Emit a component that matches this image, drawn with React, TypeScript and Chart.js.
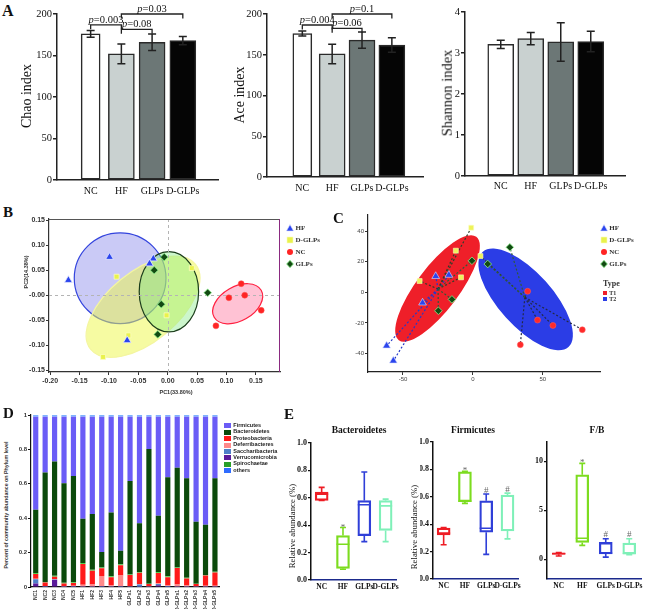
import React, { useEffect, useRef } from 'react';
import { Chart, registerables } from 'chart.js';

Chart.register(...registerables);

const SERIF = "'Liberation Serif', 'Times New Roman', serif";
const SANS = "'Liberation Sans', Arial, sans-serif";

// ================= Panel A : alpha diversity =================
const groups = ['NC', 'HF', 'GLPs', 'D-GLPs'];
const chaoMean = [176, 152, 166, 168];
const chaoSd = [4, 12, 10, 5];
const aceMean = [176, 151, 168, 162];
const aceSd = [3, 12, 10, 9];
const shannonMean = [3.21, 3.35, 3.27, 3.28];
const shannonSd = [0.1, 0.15, 0.47, 0.25];
const barFill = ['#ffffff', '#c9d1d0', '#6c7776', '#050505'];
const chaoTicks = [0, 50, 100, 150, 200];
const aceTicks = [0, 50, 100, 150, 200];
const shannonTicks = [0, 1, 2, 3, 4];
// [from group, to group, bracket height, p value]
const chaoBrackets = [[0, 1, 187, '0.003'], [1, 2, 181.5, '0.08'], [1, 3, 200, '0.03']];
const aceBrackets = [[0, 1, 186.5, '0.004'], [1, 2, 182.4, '0.06'], [1, 3, 200, '0.1']];

// ================= Panel B : PCA =================
const hfBx = [-0.169, -0.099, -0.0245, -0.031, -0.069];
const hfBy = [0.030, 0.076, 0.073, 0.063, -0.090];
const dglpsBx = [-0.087, -0.067, -0.110, -0.002, 0.041];
const dglpsBy = [0.037, -0.080, -0.123, -0.040, 0.054];
const ncBx = [0.125, 0.131, 0.104, 0.159, 0.082];
const ncBy = [0.023, 0.000, -0.005, -0.030, -0.061];
const glpsBx = [-0.006, -0.023, -0.011, -0.017, 0.068];
const glpsBy = [0.076, 0.050, -0.018, -0.078, 0.005];
const bTicksX = [-0.2, -0.15, -0.1, -0.05, 0, 0.05, 0.1, 0.15];
const bTickLabelsX = ['-0.20', '-0.15', '-0.10', '-0.05', '0.00', '0.05', '0.10', '0.15'];
const bTicksY = [-0.15, -0.1, -0.05, 0, 0.05, 0.1, 0.15];
const bTickLabelsY = ['-0.15', '-0.10', '-0.05', '-0.00', '0.05', '0.10', '0.15'];

// ================= Panel C : PCoA / type =================
const hfCx = [-61.7, -56.9, -36, -26.6, -17.2];
const hfCy = [-34.9, -44.7, -6.8, 10.5, 11.3];
const hfCType = [1, 1, 1, 1, 1];
const dglpsCx = [-1.2, -12.2, -38.1, -8.5, 5.4];
const dglpsCy = [42.2, 27.2, 7.4, 9.8, 23.7];
const dglpsCType = [1, 1, 1, 1, 2];
const ncCx = [39.1, 46.2, 57.2, 78.2, 33.9];
const ncCy = [0.7, -18.1, -21.6, -24.4, -34.2];
const ncCType = [2, 2, 2, 2, 2];
const glpsCx = [26.4, 10.6, -0.7, -15, -24.7];
const glpsCy = [29.4, 18.5, 20.6, -4.6, -12];
const glpsCType = [2, 2, 1, 1, 1];
const cTicksX = [-50, 0, 50];
const cTicksY = [-40, -20, 0, 20, 40];

// ================= Panel D : phylum composition =================
const samples = ['NC1', 'NC2', 'NC3', 'NC4', 'NC5', 'HF1', 'HF2', 'HF3', 'HF4', 'HF5',
  'GLPs1', 'GLPs2', 'GLPs3', 'GLPs4', 'GLPs5', 'D-GLPs1', 'D-GLPs2', 'D-GLPs3', 'D-GLPs4', 'D-GLPs5'];
const verrucomicrobia = [0.020, 0.002, 0.040, 0.001, 0.002, 0.001, 0.001, 0.001, 0.001, 0.002, 0.001, 0.002, 0.001, 0.010, 0.002, 0.001, 0.001, 0.001, 0.001, 0.001];
const saccharibacteria = [0.025, 0.002, 0.004, 0.002, 0.002, 0.002, 0.002, 0.003, 0.002, 0.003, 0.002, 0.012, 0.002, 0.008, 0.004, 0.002, 0.002, 0.002, 0.002, 0.002];
const deferribacteres = [0.003, 0.002, 0.002, 0.003, 0.003, 0.010, 0.012, 0.060, 0.008, 0.062, 0.002, 0.004, 0.002, 0.004, 0.003, 0.012, 0.005, 0.002, 0.004, 0.004];
const proteobacteria = [0.028, 0.020, 0.014, 0.015, 0.016, 0.120, 0.080, 0.045, 0.045, 0.060, 0.065, 0.065, 0.012, 0.060, 0.047, 0.096, 0.042, 0.012, 0.060, 0.078];
const spirochaetae = [0.005, 0.003, 0.006, 0.004, 0.004, 0.006, 0.005, 0.005, 0.006, 0.005, 0.002, 0.004, 0.002, 0.005, 0.006, 0.003, 0.004, 0.002, 0.003, 0.004];
const bacteroidetes = [0.368, 0.636, 0.663, 0.578, 0.619, 0.258, 0.324, 0.089, 0.371, 0.079, 0.545, 0.284, 0.784, 0.327, 0.576, 0.580, 0.578, 0.360, 0.292, 0.543];
const firmicutes = [0.541, 0.325, 0.261, 0.387, 0.344, 0.593, 0.566, 0.787, 0.557, 0.779, 0.373, 0.619, 0.187, 0.576, 0.352, 0.296, 0.358, 0.611, 0.628, 0.358];
const othersPhyla = [0.010, 0.010, 0.010, 0.010, 0.010, 0.010, 0.010, 0.010, 0.010, 0.010, 0.010, 0.010, 0.010, 0.010, 0.010, 0.010, 0.010, 0.010, 0.010, 0.010];
const dTicks = [0, 0.2, 0.4, 0.6, 0.8, 1];
const dTickLabels = ['0', '0.2', '0.4', '0.6', '0.8', '1'];
const phylumLegend = ['Firmicutes', 'Bacteroidetes', 'Proteobacteria', 'Deferribacteres', 'Saccharibacteria', 'Verrucomicrobia', 'Spirochaetae', 'others'];
const phylumColors = ['#6b5cf6', '#0b4a0b', '#ff1a1a', '#ff8a8a', '#4f7fc8', '#5a1a9a', '#2aa02a', '#2f6cff'];

// ================= Panel E : box plots =================
const bactMin = [0.58, 0.078, 0.28, 0.28];
const bactQ1 = [0.58, 0.085, 0.324, 0.361];
const bactMed = [0.627, 0.261, 0.549, 0.541];
const bactQ3 = [0.641, 0.324, 0.58, 0.58];
const bactMax = [0.676, 0.383, 0.788, 0.59];
const bactMarks = ['', '*', '', ''];
const firmMin = [0.25, 0.552, 0.18, 0.293];
const firmQ1 = [0.322, 0.564, 0.341, 0.351];
const firmMed = [0.335, 0.569, 0.37, 0.36];
const firmQ3 = [0.372, 0.782, 0.571, 0.613];
const firmMax = [0.376, 0.787, 0.62, 0.627];
const firmMarks = ['', '*', '#', '#'];
const fbMin = [0.35, 1.43, 0.23, 0.47];
const fbQ1 = [0.5, 1.73, 0.56, 0.56];
const fbMed = [0.6, 2.16, 0.66, 0.6];
const fbQ3 = [0.65, 8.64, 1.73, 1.66];
const fbMax = [0.7, 9.8, 2.1, 2.1];
const fbMarks = ['', '*', '#', '#'];
const relTicks = [0, 0.2, 0.4, 0.6, 0.8, 1];
const relTickLabels = ['0.0', '0.2', '0.4', '0.6', '0.8', '1.0'];
const fbTicks = [0, 5, 10];
const fbTickLabels = ['0', '5', '10'];
const boxColors = ['#ee1c24', '#7cdc1f', '#2f3fd8', '#7ff0b8'];

// ---------------------------------------------------------------
type Rect = { cl: number; ct: number; cw: number; ch: number; pl: number; pt: number; pr: number; pb: number };
type Frame = { padding: any; yW: number; xH: number };
const frameOf = (r: Rect): Frame => ({
  padding: { left: 0, top: r.pt - r.ct, right: r.cl + r.cw - r.pr, bottom: 0 },
  yW: r.pl - r.cl,
  xH: r.ct + r.ch - r.pb,
});

const base = (f: Frame) => ({
  animation: false,
  responsive: false,
  maintainAspectRatio: false,
  events: [],
  layout: { padding: f.padding },
  plugins: { legend: { display: false }, tooltip: { enabled: false } },
});

const setTicks = (vals: number[]) => (s: any) => { s.ticks = vals.map((v) => ({ value: v })); };

// ---------- plugins ----------
const errorBars = (sds: number[]) => ({
  id: 'errorBars',
  afterDatasetsDraw(chart: any) {
    const { ctx } = chart;
    const xs = chart.scales.x, ys = chart.scales.y;
    ctx.save();
    ctx.strokeStyle = '#222';
    ctx.lineWidth = 1.5;
    chart.data.datasets.forEach((ds: any) => {
      const p = ds.data[0];
      const i = p.x;
      const x = xs.getPixelForValue(p.x);
      const t = ys.getPixelForValue(p.y + sds[i]);
      const b = ys.getPixelForValue(p.y - sds[i]);
      ctx.beginPath();
      ctx.moveTo(x, t); ctx.lineTo(x, b);
      ctx.moveTo(x - 4, t); ctx.lineTo(x + 4, t);
      ctx.moveTo(x - 4, b); ctx.lineTo(x + 4, b);
      ctx.stroke();
    });
    ctx.restore();
  },
});

const sigBrackets = (br: any[]) => ({
  id: 'sigBrackets',
  afterDraw(chart: any) {
    const { ctx } = chart;
    const xs = chart.scales.x, ys = chart.scales.y;
    ctx.save();
    ctx.strokeStyle = '#222';
    ctx.lineWidth = 1.3;
    ctx.fillStyle = '#111';
    ctx.textBaseline = 'alphabetic';
    br.forEach(([a, b, lvl, p]) => {
      const x1 = xs.getPixelForValue(a), x2 = xs.getPixelForValue(b);
      const y = ys.getPixelForValue(lvl);
      ctx.beginPath();
      ctx.moveTo(x1, y + 4.5); ctx.lineTo(x1, y); ctx.lineTo(x2, y); ctx.lineTo(x2, y + 4.5);
      ctx.stroke();
      const it = `italic 10.5px ${SERIF}`, rg = `10.5px ${SERIF}`;
      ctx.font = it; const w1 = ctx.measureText('p').width;
      ctx.font = rg; const rest = '=' + p; const w2 = ctx.measureText(rest).width;
      const sx = (x1 + x2) / 2 - (w1 + w2) / 2;
      ctx.font = it; ctx.fillText('p', sx, y - 2);
      ctx.font = rg; ctx.fillText(rest, sx + w1, y - 2);
    });
    ctx.restore();
  },
});

type Ell = { x1: number; y1: number; x2: number; y2: number; ratio: number; fill: string; stroke: string; lw: number };
function drawEll(ctx: any, xs: any, ys: any, e: Ell) {
  const px1 = xs.getPixelForValue(e.x1), py1 = ys.getPixelForValue(e.y1);
  const px2 = xs.getPixelForValue(e.x2), py2 = ys.getPixelForValue(e.y2);
  const a = Math.hypot(px2 - px1, py2 - py1) / 2;
  ctx.beginPath();
  ctx.ellipse((px1 + px2) / 2, (py1 + py2) / 2, a, a * e.ratio, Math.atan2(py2 - py1, px2 - px1), 0, Math.PI * 2);
  ctx.fillStyle = e.fill;
  ctx.fill();
  if (e.lw > 0) { ctx.strokeStyle = e.stroke; ctx.lineWidth = e.lw; ctx.stroke(); }
}

// confidence ellipses (major-axis end points in data units, minor/major ratio)
const ellipsesB: Ell[] = [
  { x1: -0.159, y1: 0.034, x2: -0.003, y2: 0.034, ratio: 0.99, fill: 'rgba(115,115,232,0.38)', stroke: '#3344dd', lw: 1.2 },
  { x1: -0.131, y1: -0.108, x2: 0.047, y2: 0.062, ratio: 0.52, fill: 'rgba(238,248,70,0.5)', stroke: '#f4f6a0', lw: 1.2 },
  { x1: 0.002, y1: -0.073, x2: 0.002, y2: 0.087, ratio: 0.74, fill: 'rgba(120,232,120,0.38)', stroke: '#1b3d1b', lw: 1.2 },
  { x1: 0.079, y1: -0.044, x2: 0.159, y2: 0.010, ratio: 0.63, fill: 'rgba(255,120,160,0.45)', stroke: '#ff2040', lw: 1.2 },
];
const ellipsesC: Ell[] = [
  { x1: -53, y1: -31.2, x2: 2.4, y2: 36.3, ratio: 0.33, fill: '#ef1f29', stroke: '#ef1f29', lw: 0 },
  { x1: 7.1, y1: 26.5, x2: 68.3, y2: -35.6, ratio: 0.42, fill: '#2b3de6', stroke: '#2b3de6', lw: 0 },
];

const pcaDecor = {
  id: 'pcaDecor',
  beforeDatasetsDraw(chart: any) {
    const { ctx, chartArea: a } = chart;
    const xs = chart.scales.x, ys = chart.scales.y;
    ctx.save();
    ellipsesB.forEach((e) => drawEll(ctx, xs, ys, e));
    ctx.setLineDash([3, 3]);
    ctx.strokeStyle = '#b4b4b4';
    ctx.lineWidth = 1;
    const x0 = Math.round(xs.getPixelForValue(0)) + 0.5, y0 = Math.round(ys.getPixelForValue(0)) + 0.5;
    ctx.beginPath();
    ctx.moveTo(x0, a.top); ctx.lineTo(x0, a.bottom);
    ctx.moveTo(a.left, y0); ctx.lineTo(a.right, y0);
    ctx.stroke();
    ctx.restore();
  },
  afterDraw(chart: any) {
    const { ctx, chartArea: a } = chart;
    ctx.save();
    ctx.strokeStyle = '#555';
    ctx.lineWidth = 1;
    ctx.beginPath();
    ctx.moveTo(a.left, a.top + 0.5); ctx.lineTo(a.right - 0.5, a.top + 0.5);
    ctx.stroke();
    ctx.strokeStyle = '#8a2a80';
    ctx.beginPath();
    ctx.moveTo(a.right - 0.5, a.top); ctx.lineTo(a.right - 0.5, a.bottom);
    ctx.stroke();
    ctx.restore();
  },
};

const cGroupsData = [
  { x: hfCx, y: hfCy, t: hfCType, link: '#2438c8' },
  { x: dglpsCx, y: dglpsCy, t: dglpsCType, link: '#2e3e2a' },
  { x: ncCx, y: ncCy, t: ncCType, link: '#232a44' },
  { x: glpsCx, y: glpsCy, t: glpsCType, link: '#2f5a3a' },
];

const pcoaDecor = {
  id: 'pcoaDecor',
  beforeDatasetsDraw(chart: any) {
    const { ctx } = chart;
    const xs = chart.scales.x, ys = chart.scales.y;
    ctx.save();
    ellipsesC.forEach((e) => drawEll(ctx, xs, ys, e));
    const cent: any = {};
    cGroupsData.forEach((g) => g.x.forEach((v, i) => {
      const t = g.t[i];
      cent[t] = cent[t] || { x: 0, y: 0, n: 0 };
      cent[t].x += v; cent[t].y += g.y[i]; cent[t].n += 1;
    }));
    ctx.setLineDash([2, 2]);
    ctx.lineWidth = 1.2;
    cGroupsData.forEach((g) => g.x.forEach((v, i) => {
      const c = cent[g.t[i]];
      ctx.strokeStyle = g.link;
      ctx.beginPath();
      ctx.moveTo(xs.getPixelForValue(c.x / c.n), ys.getPixelForValue(c.y / c.n));
      ctx.lineTo(xs.getPixelForValue(v), ys.getPixelForValue(g.y[i]));
      ctx.stroke();
    }));
    ctx.restore();
  },
};

const boxWhiskers = (mins: number[], meds: number[], maxs: number[], marks: string[]) => ({
  id: 'boxWhiskers',
  afterDatasetsDraw(chart: any) {
    const { ctx } = chart;
    const xs = chart.scales.x, ys = chart.scales.y;
    const ds = chart.data.datasets[0];
    ctx.save();
    ctx.lineWidth = 1.6;
    ds.data.forEach((q: number[], i: number) => {
      const x = xs.getPixelForValue(i);
      const c = boxColors[i];
      ctx.strokeStyle = c;
      const yMin = ys.getPixelForValue(mins[i]), yMax = ys.getPixelForValue(maxs[i]);
      const yQ1 = ys.getPixelForValue(q[0]), yQ3 = ys.getPixelForValue(q[1]);
      const yMd = ys.getPixelForValue(meds[i]);
      ctx.beginPath();
      ctx.moveTo(x, yQ3); ctx.lineTo(x, yMax);
      ctx.moveTo(x - 3, yMax); ctx.lineTo(x + 3, yMax);
      ctx.moveTo(x, yQ1); ctx.lineTo(x, yMin);
      ctx.moveTo(x - 3, yMin); ctx.lineTo(x + 3, yMin);
      ctx.moveTo(x - 6.5, yMd); ctx.lineTo(x + 6.5, yMd);
      ctx.stroke();
      if (marks[i]) {
        ctx.fillStyle = '#666';
        ctx.font = `9px ${SERIF}`;
        ctx.textAlign = 'center';
        ctx.textBaseline = 'alphabetic';
        ctx.fillText(marks[i], x, marks[i] === '*' ? yMax + 2 : yMax - 1.5);
      }
    });
    ctx.restore();
  },
});

// ---------- chart builders ----------
function alphaConfig(f: Frame, means: number[], sds: number[], ticks: number[], xMin: number, xMax: number, brackets: any[] | null, labelPad: number, widths: number[]) {
  const plugins: any[] = [errorBars(sds)];
  if (brackets) plugins.push(sigBrackets(brackets));
  return {
    type: 'bar',
    data: {
      datasets: means.map((v, i) => ({
        data: [{ x: i, y: v }],
        backgroundColor: barFill[i],
        borderColor: '#2a2a2a',
        borderWidth: 1.5,
        borderSkipped: false,
        barThickness: widths[i],
        grouped: false,
      })),
    },
    options: {
      ...base(f),
      scales: {
        x: {
          type: 'linear', min: xMin, max: xMax,
          afterBuildTicks: setTicks(groups.map((_, i) => i)),
          afterFit: (s: any) => { s.height = f.xH; },
          grid: { display: false, drawTicks: false },
          border: { color: '#222', width: 1.5 },
          ticks: { callback: (v: any) => groups[v] ?? '', color: '#111', font: { family: SERIF, size: 10 }, maxRotation: 0, autoSkip: false, padding: labelPad },
        },
        y: {
          min: 0, max: ticks[ticks.length - 1],
          afterBuildTicks: setTicks(ticks),
          afterFit: (s: any) => { s.width = f.yW; },
          grid: { drawOnChartArea: false, drawTicks: true, tickLength: 4, color: '#222', lineWidth: 1.5 },
          border: { color: '#222', width: 1.5 },
          ticks: { color: '#111', font: { family: SERIF, size: 10.5 }, padding: 1 },
        },
      },
    },
    plugins,
  };
}

const pts = (xs: number[], ys: number[]) => xs.map((x, i) => ({ x, y: ys[i] }));

function pcaConfig(f: Frame) {
  return {
    type: 'scatter',
    data: {
      datasets: [
        { data: pts(hfBx, hfBy), pointStyle: 'triangle', pointRadius: 4.5, backgroundColor: '#2b45ee', borderColor: '#e4e8ff', borderWidth: 0.8 },
        { data: pts(dglpsBx, dglpsBy), pointStyle: 'rect', pointRadius: 3.5, backgroundColor: '#e9f24c', borderColor: '#fbfcc0', borderWidth: 0.8 },
        { data: pts(ncBx, ncBy), pointStyle: 'circle', pointRadius: 3, backgroundColor: '#ff2424', borderColor: '#ff5050', borderWidth: 0.5 },
        { data: pts(glpsBx, glpsBy), pointStyle: 'rectRot', pointRadius: 3.8, backgroundColor: '#124a12', borderColor: '#8cf08c', borderWidth: 0.8 },
      ],
    },
    options: {
      ...base(f),
      scales: {
        x: {
          type: 'linear', min: -0.202, max: 0.191,
          afterBuildTicks: setTicks(bTicksX),
          afterFit: (s: any) => { s.height = f.xH; },
          grid: { drawOnChartArea: false, tickLength: 3, color: '#333' },
          border: { color: '#333', width: 1.2 },
          ticks: { callback: (_v: any, i: number) => bTickLabelsX[i], color: '#333', font: { family: SANS, size: 7, weight: 'bold' }, padding: 2, maxRotation: 0, autoSkip: false },
        },
        y: {
          min: -0.153, max: 0.152,
          afterBuildTicks: setTicks(bTicksY),
          afterFit: (s: any) => { s.width = f.yW; },
          grid: { drawOnChartArea: false, tickLength: 3, color: '#333' },
          border: { color: '#333', width: 1.2 },
          ticks: { callback: (_v: any, i: number) => bTickLabelsY[i], color: '#333', font: { family: SANS, size: 7, weight: 'bold' }, padding: 1, autoSkip: false },
        },
      },
    },
    plugins: [pcaDecor],
  };
}

function pcoaConfig(f: Frame) {
  return {
    type: 'scatter',
    data: {
      datasets: [
        { data: pts(hfCx, hfCy), pointStyle: 'triangle', pointRadius: 4.5, backgroundColor: '#2b45ee', borderColor: '#dfe4ff', borderWidth: 0.6 },
        { data: pts(dglpsCx, dglpsCy), pointStyle: 'rect', pointRadius: 3.5, backgroundColor: '#eef35a', borderColor: '#fbfcc0', borderWidth: 0.6 },
        { data: pts(ncCx, ncCy), pointStyle: 'circle', pointRadius: 3, backgroundColor: '#ff2a2a', borderColor: '#ff6060', borderWidth: 0.5 },
        { data: pts(glpsCx, glpsCy), pointStyle: 'rectRot', pointRadius: 3.8, backgroundColor: '#124a12', borderColor: '#8cf08c', borderWidth: 0.8 },
      ],
    },
    options: {
      ...base(f),
      scales: {
        x: {
          type: 'linear', min: -75, max: 91.5,
          afterBuildTicks: setTicks(cTicksX),
          afterFit: (s: any) => { s.height = f.xH; },
          grid: { drawOnChartArea: false, tickLength: 3, color: '#333' },
          border: { color: '#222', width: 1.2 },
          ticks: { color: '#444', font: { family: SANS, size: 6 }, padding: 1, maxRotation: 0, autoSkip: false },
        },
        y: {
          min: -52, max: 50.5,
          afterBuildTicks: setTicks(cTicksY),
          afterFit: (s: any) => { s.width = f.yW; },
          grid: { drawOnChartArea: false, tickLength: 3, color: '#333' },
          border: { color: '#222', width: 1.2 },
          ticks: { color: '#444', font: { family: SANS, size: 6 }, padding: 1, autoSkip: false },
        },
      },
    },
    plugins: [pcoaDecor],
  };
}

function phylumConfig(f: Frame) {
  const series = [
    { d: verrucomicrobia, c: '#5a1a9a' },
    { d: saccharibacteria, c: '#4f7fc8' },
    { d: deferribacteres, c: '#ff8a8a' },
    { d: proteobacteria, c: '#ff1a1a' },
    { d: spirochaetae, c: '#4fd04f' },
    { d: bacteroidetes, c: '#0b4a0b' },
    { d: firmicutes, c: '#6b5cf6' },
    { d: othersPhyla, c: '#7fb2ff' },
  ];
  return {
    type: 'bar',
    data: {
      labels: samples,
      datasets: series.map((s) => ({ data: s.d, backgroundColor: s.c, borderWidth: 0, barPercentage: 0.55, categoryPercentage: 1 })),
    },
    options: {
      ...base(f),
      scales: {
        x: {
          stacked: true,
          afterFit: (s: any) => { s.height = f.xH; },
          grid: { display: false, drawTicks: false },
          border: { color: '#111', width: 1.2 },
          ticks: { color: '#333', font: { family: SANS, size: 5, weight: 'bold' }, padding: 3, minRotation: 90, maxRotation: 90, autoSkip: false },
        },
        y: {
          stacked: true, min: 0, max: 1,
          afterBuildTicks: setTicks(dTicks),
          afterFit: (s: any) => { s.width = f.yW; },
          grid: { drawOnChartArea: false, tickLength: 3, color: '#111' },
          border: { color: '#111', width: 1.2 },
          ticks: { callback: (_v: any, i: number) => dTickLabels[i], color: '#333', font: { family: SANS, size: 6, weight: 'bold' }, padding: 1, autoSkip: false },
        },
      },
    },
  };
}

function boxConfig(f: Frame, mins: number[], q1: number[], med: number[], q3: number[], maxs: number[], marks: string[], yMin: number, yMax: number, ticks: number[], tickLabels: string[]) {
  return {
    type: 'bar',
    data: {
      labels: groups,
      datasets: [{
        data: q1.map((v, i) => [v, q3[i]]),
        backgroundColor: 'rgba(255,255,255,0)',
        borderColor: boxColors,
        borderWidth: 1.6,
        borderSkipped: false,
        barThickness: 13,
      }],
    },
    options: {
      ...base(f),
      scales: {
        x: {
          offset: true,
          afterFit: (s: any) => { s.height = f.xH; },
          grid: { display: false, drawTicks: false },
          border: { color: '#1b2a8c', width: 1.5 },
          ticks: { color: '#111', font: { family: SERIF, size: 7.5, weight: 'bold' }, padding: 3, maxRotation: 0, autoSkip: false },
        },
        y: {
          min: yMin, max: yMax,
          afterBuildTicks: setTicks(ticks),
          afterFit: (s: any) => { s.width = f.yW; },
          grid: { drawOnChartArea: false, tickLength: 3, color: '#111', lineWidth: 1.2 },
          border: { color: '#111', width: 1.5 },
          ticks: { callback: (_v: any, i: number) => tickLabels[i], color: '#111', font: { family: SERIF, size: 8, weight: 'bold' }, padding: 1, autoSkip: false },
        },
      },
    },
    plugins: [boxWhiskers(mins, med, maxs, marks)],
  };
}

// ---------- layout rectangles (page px) ----------
const rA1: Rect = { cl: 14, ct: 0, cw: 210, ch: 200, pl: 57, pt: 14, pr: 218, pb: 180 };
const rA2: Rect = { cl: 228, ct: 0, cw: 200, ch: 200, pl: 267, pt: 14, pr: 423, pb: 177 };
const rA3: Rect = { cl: 436, ct: 0, cw: 200, ch: 200, pl: 465, pt: 12, pr: 625, pb: 176 };
const rB: Rect = { cl: 14, ct: 205, cw: 272, ch: 190, pl: 49, pt: 219, pr: 280, pb: 372 };
const rC: Rect = { cl: 340, ct: 205, cw: 266, ch: 180, pl: 368, pt: 215, pr: 603, pb: 372 };
const rD: Rect = { cl: 12, ct: 405, cw: 212, ch: 204, pl: 31, pt: 415, pr: 222, pb: 587 };
const rE1: Rect = { cl: 296, ct: 436, cw: 106, ch: 173, pl: 311, pt: 443, pr: 400, pb: 580 };
const rE2: Rect = { cl: 420, ct: 436, cw: 104, ch: 173, pl: 433, pt: 442, pr: 521, pb: 579 };
const rE3: Rect = { cl: 528, ct: 436, cw: 118, ch: 173, pl: 547, pt: 440, pr: 641, pb: 579 };

function ChartBox({ r, build }: { r: Rect; build: (f: Frame) => any }) {
  const ref = useRef<HTMLCanvasElement | null>(null);
  useEffect(() => {
    if (!ref.current) return;
    const chart = new Chart(ref.current, build(frameOf(r)));
    return () => chart.destroy();
  }, []);
  return <canvas ref={ref} width={r.cw} height={r.ch} style={{ position: 'absolute', left: r.cl, top: r.ct, width: r.cw, height: r.ch }} />;
}

function Txt({ x, y, text, size, family = SERIF, weight = 'normal', rot = false, anchor = 'middle', color = '#111' }: any) {
  const tf = rot ? 'translate(-50%,-50%) rotate(-90deg)' : anchor === 'middle' ? 'translate(-50%,-50%)' : 'translateY(-50%)';
  return (
    <div style={{ position: 'absolute', left: x, top: y, transform: tf, fontFamily: family, fontSize: size, fontWeight: weight, color, whiteSpace: 'nowrap', lineHeight: 1 }}>
      {text}
    </div>
  );
}

function Marker({ x, y, shape, fill, stroke }: any) {
  const s = 8;
  let el: any = null;
  if (shape === 'triangle') el = <polygon points="4,0.5 7.6,7 0.4,7" fill={fill} stroke={stroke} strokeWidth={0.6} />;
  else if (shape === 'rect') el = <rect x={1} y={1} width={6} height={6} fill={fill} stroke={stroke} strokeWidth={0.6} />;
  else if (shape === 'circle') el = <circle cx={4} cy={4} r={3} fill={fill} />;
  else el = <polygon points="4,0.3 7.4,4 4,7.7 0.6,4" fill={fill} stroke={stroke} strokeWidth={0.8} />;
  return <svg width={s} height={s} style={{ position: 'absolute', left: x - s / 2, top: y - s / 2 }}>{el}</svg>;
}

const legendRowsY = [227.7, 240, 252.3, 264.3];
const groupMarkers = [
  { name: 'HF', shape: 'triangle', fill: '#2b45ee', stroke: '#dfe4ff' },
  { name: 'D-GLPs', shape: 'rect', fill: '#e9f24c', stroke: '#fbfcc0' },
  { name: 'NC', shape: 'circle', fill: '#ff2424', stroke: '#ff2424' },
  { name: 'GLPs', shape: 'diamond', fill: '#124a12', stroke: '#8cf08c' },
];

export default function App() {
  return (
    <div style={{ position: 'absolute', left: 0, top: 0, width: 646, height: 609, background: '#fff', overflow: 'hidden' }}>
      <ChartBox r={rA1} build={(f) => alphaConfig(f, chaoMean, chaoSd, chaoTicks, -0.44, 3.49, chaoBrackets, 5, [19, 26, 26, 26])} />
      <ChartBox r={rA2} build={(f) => alphaConfig(f, aceMean, aceSd, aceTicks, -0.53, 3.39, aceBrackets, 5, [19, 26, 26, 26])} />
      <ChartBox r={rA3} build={(f) => alphaConfig(f, shannonMean, shannonSd, shannonTicks, -0.525, 3.475, null, 4, [26, 26, 26, 26])} />
      <ChartBox r={rB} build={pcaConfig} />
      <ChartBox r={rC} build={pcoaConfig} />
      <ChartBox r={rD} build={phylumConfig} />
      <ChartBox r={rE1} build={(f) => boxConfig(f, bactMin, bactQ1, bactMed, bactQ3, bactMax, bactMarks, 0, 1, relTicks, relTickLabels)} />
      <ChartBox r={rE2} build={(f) => boxConfig(f, firmMin, firmQ1, firmMed, firmQ3, firmMax, firmMarks, 0, 1, relTicks, relTickLabels)} />
      <ChartBox r={rE3} build={(f) => boxConfig(f, fbMin, fbQ1, fbMed, fbQ3, fbMax, fbMarks, -2, 12, fbTicks, fbTickLabels)} />

      {/* panel letters */}
      <Txt x={2} y={11} text="A" size={16} weight="bold" anchor="start" />
      <Txt x={3} y={212} text="B" size={15} weight="bold" anchor="start" />
      <Txt x={333} y={218} text="C" size={15} weight="bold" anchor="start" />
      <Txt x={3} y={413} text="D" size={15} weight="bold" anchor="start" />
      <Txt x={284} y={414} text="E" size={15} weight="bold" anchor="start" />

      {/* panel A axis titles */}
      <Txt x={27} y={96} text="Chao index" size={14} rot />
      <Txt x={240} y={95} text="Ace index" size={14} rot />
      <Txt x={447} y={93} text="Shannon index" size={14.5} rot />

      {/* panel B titles & legend */}
      <Txt x={176} y={393} text="PC1(33.80%)" size={5.5} family={SANS} weight="bold" color="#333" />
      <Txt x={27} y={272} text="PC2(14.38%)" size={5.5} family={SANS} weight="bold" color="#333" rot />
      {groupMarkers.map((m, i) => (
        <React.Fragment key={'b' + i}>
          <Marker x={290} y={legendRowsY[i]} shape={m.shape} fill={m.fill} stroke={m.stroke} />
          <Txt x={295.5} y={legendRowsY[i]} text={m.name} size={7} weight="bold" anchor="start" color="#333" />
        </React.Fragment>
      ))}

      {/* panel C legend */}
      {groupMarkers.map((m, i) => (
        <React.Fragment key={'c' + i}>
          <Marker x={604.3} y={legendRowsY[i]} shape={m.shape} fill={m.fill} stroke={m.stroke} />
          <Txt x={609.3} y={legendRowsY[i]} text={m.name} size={7} weight="bold" anchor="start" color="#333" />
        </React.Fragment>
      ))}
      <Txt x={603} y={284.3} text="Type" size={8} weight="bold" anchor="start" color="#333" />
      <div style={{ position: 'absolute', left: 603, top: 290.7, width: 4, height: 4, background: '#ef1f29' }} />
      <Txt x={609.3} y={292.7} text="T1" size={6} weight="bold" anchor="start" color="#333" />
      <div style={{ position: 'absolute', left: 603, top: 297.3, width: 4, height: 4, background: '#2b3de6' }} />
      <Txt x={609.3} y={299.3} text="T2" size={6} weight="bold" anchor="start" color="#333" />

      {/* panel D */}
      <Txt x={7} y={505} text="Percent of community abundance on Phylum level" size={5.3} family={SANS} weight="bold" color="#333" rot />
      {phylumLegend.map((n, i) => (
        <React.Fragment key={'d' + i}>
          <div style={{ position: 'absolute', left: 224.3, top: 423.2 + i * 6.45, width: 7, height: 5, background: phylumColors[i] }} />
          <Txt x={233.3} y={425.7 + i * 6.45} text={n} size={5.5} family={SANS} weight="bold" anchor="start" color="#222" />
        </React.Fragment>
      ))}

      {/* panel E */}
      <Txt x={359} y={431} text="Bacteroidetes" size={9.5} weight="bold" />
      <Txt x={473} y={431} text="Firmicutes" size={9.5} weight="bold" />
      <Txt x={597} y={431} text="F/B" size={9.5} weight="bold" />
      <Txt x={292} y={526} text="Relative abundance (%)" size={8.8} rot />
      <Txt x={414} y={527} text="Relative abundance (%)" size={8.8} rot />
    </div>
  );
}
